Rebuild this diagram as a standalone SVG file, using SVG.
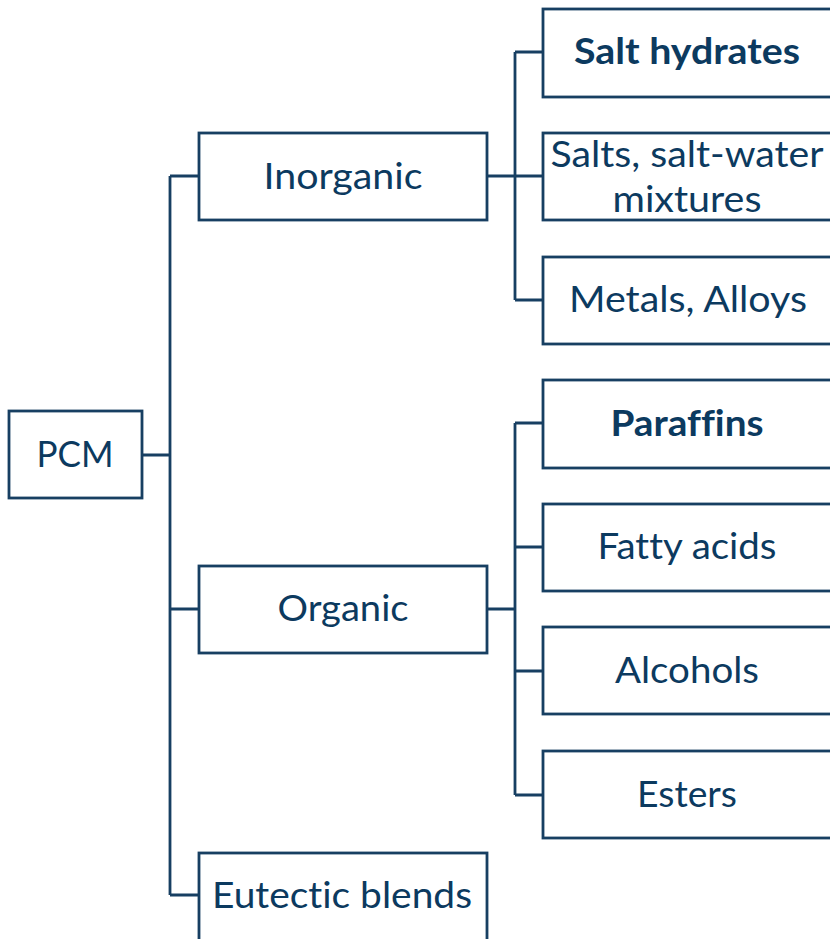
<svg xmlns="http://www.w3.org/2000/svg" width="830" height="939" viewBox="0 0 830 939">
<style>
.box{fill:#ffffff;stroke:#173f62;stroke-width:2.8}
.lbl{font-family:Lato,"Open Sans","Liberation Sans",sans-serif;font-size:37px;fill:#0c3a5f;text-anchor:middle;font-variant-ligatures:none;font-feature-settings:"liga" 0,"clig" 0}
.b{font-weight:bold}
.con{fill:none;stroke:#173f62;stroke-width:2.8}
</style>
<rect width="830" height="939" fill="#ffffff"/>
<g id="connectors">
<path class="con" d="M142 455H170M170 176V895M170 176H199M170 609H199M170 895H199"/>
<path class="con" d="M487 176H543M515 52V300M515 52H543M515 300H543"/>
<path class="con" d="M487 609H515M515 423V795M515 423H543M515 547H543M515 671H543M515 795H543"/>
</g>
<g id="pcm"><rect class="box" x="9" y="411" width="133" height="87"/><text class="lbl" x="75" y="467" textLength="77" lengthAdjust="spacingAndGlyphs">PCM</text></g>
<g id="inorganic"><rect class="box" x="199" y="133" width="288" height="87"/><text class="lbl" x="343" y="189" textLength="159" lengthAdjust="spacingAndGlyphs">Inorganic</text></g>
<g id="organic"><rect class="box" x="199" y="566" width="288" height="87"/><text class="lbl" x="343" y="621" textLength="131" lengthAdjust="spacingAndGlyphs">Organic</text></g>
<g id="eutectic"><rect class="box" x="199" y="853" width="288" height="100"/><text class="lbl" x="342" y="908" textLength="260" lengthAdjust="spacingAndGlyphs">Eutectic blends</text></g>
<g id="salt-hydrates"><rect class="box" x="543" y="9" width="300" height="88"/><text class="lbl b" x="687" y="64" textLength="226" lengthAdjust="spacingAndGlyphs">Salt hydrates</text></g>
<g id="salts"><rect class="box" x="543" y="133" width="300" height="87"/><text class="lbl" x="687" y="167" textLength="273" lengthAdjust="spacingAndGlyphs">Salts, salt-water</text><text class="lbl" x="687" y="212" textLength="149" lengthAdjust="spacingAndGlyphs">mixtures</text></g>
<g id="metals"><rect class="box" x="543" y="257" width="300" height="87"/><text class="lbl" x="688" y="312" textLength="238" lengthAdjust="spacingAndGlyphs">Metals, Alloys</text></g>
<g id="paraffins"><rect class="box" x="543" y="380" width="300" height="88"/><text class="lbl b" x="687" y="436" textLength="153" lengthAdjust="spacingAndGlyphs">Paraffins</text></g>
<g id="fatty-acids"><rect class="box" x="543" y="504" width="300" height="87"/><text class="lbl" x="687" y="559" textLength="179" lengthAdjust="spacingAndGlyphs">Fatty acids</text></g>
<g id="alcohols"><rect class="box" x="543" y="627" width="300" height="87"/><text class="lbl" x="687" y="683" textLength="144" lengthAdjust="spacingAndGlyphs">Alcohols</text></g>
<g id="esters"><rect class="box" x="543" y="751" width="300" height="87"/><text class="lbl" x="687" y="807" textLength="100" lengthAdjust="spacingAndGlyphs">Esters</text></g>
</svg>
